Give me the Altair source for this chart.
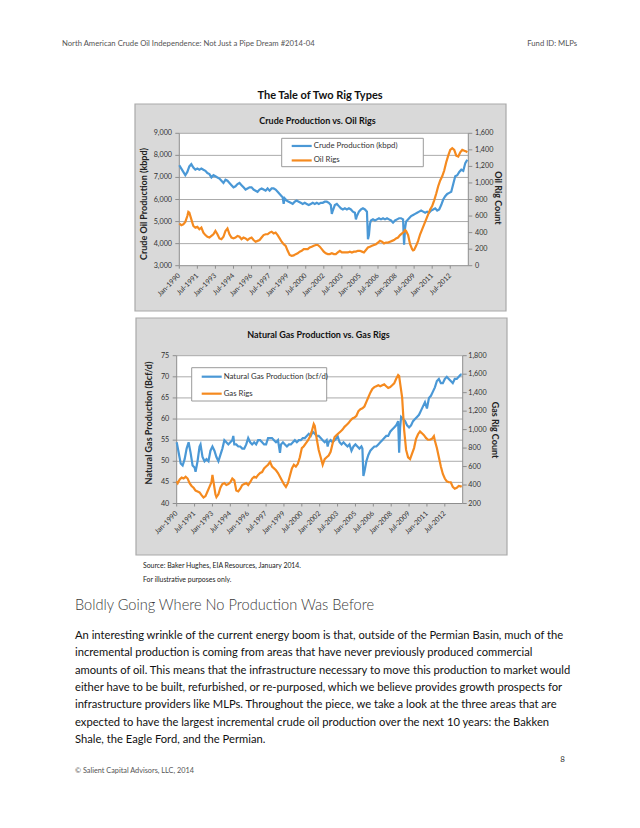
import altair as alt
import pandas as pd

# ------------------------------------------------------------------ data
crude_dates = ["1990-01","1990-03","1990-05","1990-07","1990-09","1990-11","1991-01","1991-03","1991-05","1991-07","1991-09","1991-11",
               "1992-01","1992-03","1992-05","1992-07","1992-09","1992-11","1993-01","1993-03","1993-05","1993-07","1993-09","1993-11",
               "1994-01","1994-03","1994-05","1994-07","1994-09","1994-11","1995-01","1995-03","1995-05","1995-07","1995-09","1995-11",
               "1996-01","1996-03","1996-05","1996-07","1996-09","1996-11","1997-01","1997-03","1997-05","1997-07","1997-09","1997-11",
               "1998-01","1998-03","1998-05","1998-07","1998-08","1998-09","1998-10","1998-12","1999-02","1999-04","1999-06","1999-08",
               "1999-10","1999-12","2000-02","2000-04","2000-06","2000-08","2000-10","2000-12","2001-02","2001-04","2001-06","2001-08",
               "2001-10","2001-12","2002-02","2002-04","2002-06","2002-08","2002-09","2002-10","2002-12","2003-02","2003-04","2003-06",
               "2003-08","2003-10","2003-12","2004-02","2004-04","2004-06","2004-08","2004-09","2004-10","2004-12","2005-02","2005-04",
               "2005-06","2005-08","2005-09","2005-10","2005-11","2005-12","2006-02","2006-04","2006-06","2006-08","2006-10","2006-12",
               "2007-02","2007-04","2007-06","2007-08","2007-10","2007-12","2008-02","2008-04","2008-06","2008-08","2008-09","2008-10",
               "2008-11","2008-12","2009-02","2009-04","2009-06","2009-08","2009-10","2009-12","2010-02","2010-04","2010-06","2010-08",
               "2010-10","2010-12","2011-02","2011-04","2011-06","2011-08","2011-10","2011-12","2012-02","2012-04","2012-06","2012-08",
               "2012-10","2012-12","2013-02","2013-04","2013-06","2013-08","2013-10","2013-12"]
crude_kbpd = [7550,7400,7250,7100,7250,7500,7600,7450,7350,7400,7350,7400,
              7350,7300,7200,7150,7000,7100,7050,7000,6950,6850,6750,6900,
              6850,6750,6650,6550,6600,6700,6750,6650,6550,6450,6500,6550,
              6550,6450,6400,6350,6450,6500,6450,6400,6500,6400,6500,6500,
              6450,6350,6250,6150,6100,5800,6050,5950,5900,5850,5800,5900,
              5950,5900,5850,5800,5850,5800,5750,5800,5850,5800,5850,5800,
              5850,5850,5900,5900,5850,5750,5350,5500,5750,5800,5700,5600,
              5550,5600,5550,5600,5550,5450,5400,5100,5250,5450,5550,5600,
              5550,5450,4200,4400,4900,5050,5100,5050,5100,5150,5100,5150,
              5100,5150,5100,5050,4950,5050,5100,5150,5150,5100,3950,4700,
              5000,5050,5150,5250,5300,5350,5400,5450,5500,5450,5400,5450,
              5400,5500,5550,5600,5500,5550,5750,6000,6150,6250,6300,6350,
              6700,7050,7100,7250,7350,7300,7650,7800]

oil_rig_dates = ["1990-01","1990-03","1990-05","1990-07","1990-09","1990-10","1990-11","1991-01","1991-03","1991-05","1991-07","1991-09",
                 "1991-11","1992-01","1992-03","1992-05","1992-07","1992-09","1992-11","1993-01","1993-03","1993-05","1993-07","1993-09",
                 "1993-11","1994-01","1994-03","1994-05","1994-07","1994-09","1994-11","1995-01","1995-03","1995-05","1995-07","1995-09",
                 "1995-11","1996-01","1996-03","1996-05","1996-07","1996-09","1996-11","1997-01","1997-03","1997-05","1997-07","1997-09",
                 "1997-11","1998-01","1998-03","1998-05","1998-07","1998-09","1998-11","1999-01","1999-03","1999-05","1999-07","1999-09",
                 "1999-11","2000-01","2000-03","2000-05","2000-07","2000-09","2000-11","2001-01","2001-03","2001-05","2001-07","2001-09",
                 "2001-11","2002-01","2002-03","2002-05","2002-07","2002-09","2002-11","2003-01","2003-03","2003-05","2003-07","2003-09",
                 "2003-11","2004-01","2004-03","2004-05","2004-07","2004-09","2004-11","2005-01","2005-03","2005-05","2005-07","2005-09",
                 "2005-11","2006-01","2006-03","2006-05","2006-07","2006-09","2006-11","2007-01","2007-03","2007-05","2007-07","2007-09",
                 "2007-11","2008-01","2008-03","2008-05","2008-07","2008-09","2008-10","2008-11","2009-01","2009-03","2009-05","2009-06",
                 "2009-07","2009-09","2009-11","2010-01","2010-03","2010-05","2010-07","2010-09","2010-11","2011-01","2011-03","2011-05",
                 "2011-07","2011-09","2011-11","2012-01","2012-03","2012-05","2012-07","2012-09","2012-11","2013-01","2013-03","2013-05",
                 "2013-07","2013-09","2013-11","2013-12"]
oil_rigs = [510,490,500,530,600,650,640,560,480,460,470,440,
            460,400,370,350,340,360,380,420,380,330,320,350,
            420,450,380,340,330,340,360,350,320,340,330,310,
            330,340,310,290,300,310,340,370,380,380,400,410,
            390,400,370,330,290,260,240,180,130,120,125,140,
            150,170,180,200,200,200,220,230,240,250,250,230,
            200,170,150,140,140,150,140,140,160,180,160,160,
            160,160,170,160,170,170,180,180,170,160,190,220,
            230,240,250,260,280,300,290,270,280,280,290,300,
            310,330,340,370,390,410,430,420,370,260,200,185,
            190,240,300,380,440,500,560,620,680,720,790,870,
            960,1030,1080,1150,1250,1330,1400,1420,1400,1330,1320,1370,
            1400,1390,1380,1370]

gas_dates = ["1990-01","1990-03","1990-05","1990-07","1990-09","1990-11","1991-01","1991-03","1991-05","1991-07","1991-08","1991-10",
             "1991-12","1992-01","1992-03","1992-05","1992-07","1992-09","1992-11","1993-01","1993-03","1993-05","1993-07","1993-09",
             "1993-11","1994-01","1994-03","1994-05","1994-07","1994-09","1994-10","1994-11","1995-01","1995-03","1995-05","1995-07",
             "1995-09","1995-11","1996-01","1996-03","1996-05","1996-07","1996-09","1996-11","1997-01","1997-03","1997-05","1997-07",
             "1997-09","1997-11","1998-01","1998-03","1998-05","1998-07","1998-09","1998-10","1998-12","1999-02","1999-04","1999-06",
             "1999-08","1999-10","1999-12","2000-02","2000-04","2000-06","2000-08","2000-10","2000-12","2001-02","2001-04","2001-06",
             "2001-08","2001-10","2001-12","2002-02","2002-04","2002-06","2002-08","2002-09","2002-10","2002-12","2003-02","2003-04",
             "2003-06","2003-07","2003-09","2003-11","2004-01","2004-03","2004-05","2004-07","2004-09","2004-11","2005-01","2005-03",
             "2005-05","2005-07","2005-08","2005-09","2005-10","2005-12","2006-02","2006-04","2006-06","2006-08","2006-10","2006-12",
             "2007-02","2007-04","2007-06","2007-08","2007-10","2007-12","2008-02","2008-04","2008-06","2008-08","2008-09","2008-10",
             "2008-11","2009-01","2009-03","2009-05","2009-07","2009-09","2009-11","2010-01","2010-03","2010-05","2010-07","2010-09",
             "2010-11","2011-01","2011-03","2011-05","2011-07","2011-09","2011-11","2012-01","2012-03","2012-05","2012-07","2012-09",
             "2012-11","2013-01","2013-03","2013-05","2013-07","2013-09","2013-11","2013-12"]
gas_bcfd = [54.5,52,49.5,49,50.5,53,54.5,52,49,48.5,47.5,50,
            53.5,54,51,50,50.5,50,52.5,53.5,52.5,51,50,51.5,
            53,55,54.5,54,54.5,55,56,54,54,53.5,53.5,53,
            53,54,55.5,54.5,54,54.5,54,55,55,54.5,54,54,
            55.5,55.5,55.5,55,54.5,55,52,54,54.5,54,53.5,54,
            54,54.5,55,54.5,55,55,55.5,55.5,56,56.5,56,57,
            56.5,56,56,55.5,55,54.5,55,53.5,54.5,55,54.5,55,
            55.5,56,54.5,54,54.5,54,53.5,54,52.5,53.5,54,53.5,
            53,53.5,53,46.5,47.5,50,51.5,52.5,53,53.5,53.5,54,
            54.5,55,55.5,56,56,57,57.5,58,58.5,59.5,52,58,
            60.5,60,59.5,58.5,58,58.5,59.5,60,60.5,61,62,63,
            64,62.5,65,65.5,66.5,67.5,69,69.5,68.5,68.5,69.5,70,
            69.5,69,68.5,69.5,69.5,70,70.5,70.5]

gas_rig_dates = ["1990-01","1990-02","1990-04","1990-06","1990-08","1990-10","1990-12","1991-02","1991-04","1991-06","1991-08","1991-10",
                 "1991-12","1992-02","1992-04","1992-06","1992-08","1992-10","1992-12","1993-01","1993-02","1993-04","1993-05","1993-07",
                 "1993-09","1993-11","1994-01","1994-03","1994-05","1994-07","1994-09","1994-11","1995-01","1995-03","1995-05","1995-07",
                 "1995-09","1995-11","1996-01","1996-03","1996-05","1996-07","1996-09","1996-11","1997-01","1997-03","1997-05","1997-07",
                 "1997-09","1997-11","1998-01","1998-03","1998-05","1998-07","1998-09","1998-11","1999-01","1999-03","1999-05","1999-07",
                 "1999-09","1999-11","2000-01","2000-03","2000-05","2000-07","2000-09","2000-11","2001-01","2001-03","2001-05","2001-07",
                 "2001-08","2001-10","2001-12","2002-02","2002-04","2002-06","2002-08","2002-10","2002-12","2003-02","2003-04","2003-06",
                 "2003-08","2003-10","2003-12","2004-02","2004-04","2004-06","2004-08","2004-10","2004-12","2005-02","2005-04","2005-06",
                 "2005-08","2005-10","2005-12","2006-02","2006-04","2006-06","2006-08","2006-10","2006-12","2007-02","2007-04","2007-06",
                 "2007-08","2007-10","2007-12","2008-02","2008-04","2008-06","2008-08","2008-09","2008-10","2008-12","2009-02","2009-04",
                 "2009-06","2009-08","2009-10","2009-12","2010-02","2010-04","2010-06","2010-08","2010-10","2010-12","2011-02","2011-04",
                 "2011-06","2011-08","2011-09","2011-11","2012-01","2012-03","2012-05","2012-07","2012-09","2012-11","2013-01","2013-03",
                 "2013-05","2013-07","2013-09","2013-11","2013-12"]
gas_rigs = [440,420,460,480,470,490,470,420,390,370,340,330,
            320,290,265,280,330,380,430,510,440,300,270,300,
            370,410,420,400,410,430,470,450,340,330,360,400,
            410,420,400,430,470,490,480,510,530,540,580,600,
            620,650,600,580,560,530,490,450,410,380,420,500,
            580,620,600,630,700,800,820,850,880,920,980,1060,
            1040,900,780,700,620,680,700,720,760,850,920,940,
            960,980,1000,1030,1050,1070,1100,1120,1130,1150,1200,1220,
            1230,1250,1300,1350,1400,1440,1460,1470,1480,1470,1480,1490,
            1470,1450,1460,1480,1500,1550,1590,1580,1500,1350,1000,780,
            700,680,740,800,900,950,980,960,940,910,890,890,
            900,930,880,800,700,600,520,470,440,430,430,380,
            360,370,390,385,380]

x_tick_labels = ["Jan-1990","Jul-1991","Jan-1993","Jul-1994","Jan-1996","Jul-1997","Jan-1999","Jul-2000",
                 "Jan-2002","Jul-2003","Jan-2005","Jul-2006","Jan-2008","Jul-2009","Jan-2011","Jul-2012"]
crude_ticks = [3000, 4000, 5000, 6000, 7000, 8000, 9000]
oil_rig_ticks = [0, 200, 400, 600, 800, 1000, 1200, 1400, 1600]
gas_ticks = [40, 45, 50, 55, 60, 65, 70, 75]
gas_rig_ticks = [200, 400, 600, 800, 1000, 1200, 1400, 1600, 1800]

body_lines = [
    "An interesting wrinkle of the current energy boom is that, outside of the Permian Basin, much of the",
    "incremental production is coming from areas that have never previously produced commercial",
    "amounts of oil.  This means that the infrastructure necessary to move this production to market would",
    "either have to be built, refurbished, or re-purposed, which we believe provides growth prospects for",
    "infrastructure providers like MLPs.  Throughout the piece, we take a look at the three areas that are",
    "expected to have the largest incremental crude oil production over the next 10 years:  the Bakken",
    "Shale, the Eagle Ford, and the Permian.",
]

# ------------------------------------------------------------------ helpers
MONTHS = {"Jan": 1, "Jul": 7}
BLUE = "#4a98d6"
ORANGE = "#f58a1f"
PANEL_BG = "#d9d9d9"
PANEL_EDGE = "#a9a9a9"
GRID = "#ababab"
AXIS = "#8e8e8e"
LBL = "#333333"
FONT = "Lato, Open Sans, sans-serif"
W, H = 624, 812


def midx(s):
    y, m = s.split("-")
    return (int(y) - 1990) * 12 + int(m) - 1


def lbl_idx(s):
    mon, y = s.split("-")
    return (int(y) - 1990) * 12 + MONTHS[mon] - 1


def series(dates, vals):
    return pd.DataFrame({"m": [midx(d) for d in dates], "v": vals})


ONE = pd.DataFrame({"a": [0]})


def text(s, x, y, size, weight="normal", color="#222222", align="left", angle=0, font=FONT):
    kw = dict(text=s, fontSize=size, fontWeight=weight, color=color, align=align,
              baseline="middle", font=font)
    if angle:
        kw["angle"] = angle
    return alt.Chart(ONE).mark_text(**kw).encode(x=alt.value(x), y=alt.value(y))


def rect(x0, y0, x1, y1, fill, stroke=None, sw=1):
    kw = dict(fill=fill)
    if stroke:
        kw.update(stroke=stroke, strokeWidth=sw)
    return alt.Chart(ONE).mark_rect(**kw).encode(
        x=alt.value(x0), x2=alt.value(x1), y=alt.value(y0), y2=alt.value(y1))


def hline(x0, x1, y, color, sw=1):
    return alt.Chart(ONE).mark_rule(color=color, strokeWidth=sw).encode(
        x=alt.value(x0), x2=alt.value(x1), y=alt.value(y))


def vline(x, y0, y1, color, sw=1):
    return alt.Chart(ONE).mark_rule(color=color, strokeWidth=sw).encode(
        x=alt.value(x), y=alt.value(y0), y2=alt.value(y1))


def panel(box, plot, left_dom, left_ticks, right_dom, right_ticks, s_left, s_right,
          title, left_title, right_title, ltitle_x, rtitle_x, ltitle_y, rtitle_y,
          lab_l_x, lab_r_x, legend, names):
    bx0, by0, bx1, by1 = box
    px0, py0, px1, py1 = plot
    xs = alt.Scale(domain=[0, 288], range=[px0, px1], nice=False, zero=False)
    yl = alt.Scale(domain=left_dom, range=[py1, py0], nice=False, zero=False)
    yr = alt.Scale(domain=right_dom, range=[py1, py0], nice=False, zero=False)
    L = []
    L.append(rect(bx0, by0, bx1, by1, PANEL_BG, PANEL_EDGE, 1.2))
    L.append(rect(px0, py0, px1, py1, "white"))
    gdf = pd.DataFrame({"v": left_ticks[1:]})
    L.append(alt.Chart(gdf).mark_rule(color=GRID, strokeWidth=1).encode(
        y=alt.Y("v:Q", scale=yl, axis=None), x=alt.value(px0), x2=alt.value(px1)))
    L.append(vline(px0, py0, py1, AXIS))
    L.append(vline(px1, py0, py1, AXIS))
    L.append(hline(px0, px1, py1, AXIS))
    ldf = pd.DataFrame({"v": left_ticks, "t": [f"{v:,}" for v in left_ticks]})
    rdf = pd.DataFrame({"v": right_ticks, "t": [f"{v:,}" for v in right_ticks]})
    L.append(alt.Chart(ldf).mark_rule(color=AXIS).encode(
        y=alt.Y("v:Q", scale=yl, axis=None), x=alt.value(px0 - 4), x2=alt.value(px0)))
    L.append(alt.Chart(rdf).mark_rule(color=AXIS).encode(
        y=alt.Y("v:Q", scale=yr, axis=None), x=alt.value(px1), x2=alt.value(px1 + 4)))
    L.append(alt.Chart(ldf).mark_text(align="right", baseline="middle", fontSize=7.2,
                                      font=FONT, color=LBL).encode(
        y=alt.Y("v:Q", scale=yl, axis=None), x=alt.value(lab_l_x), text="t:N"))
    L.append(alt.Chart(rdf).mark_text(align="left", baseline="middle", fontSize=7.2,
                                      font=FONT, color=LBL).encode(
        y=alt.Y("v:Q", scale=yr, axis=None), x=alt.value(lab_r_x), text="t:N"))
    xdf = pd.DataFrame({"m": [lbl_idx(s) for s in x_tick_labels], "t": x_tick_labels})
    L.append(alt.Chart(xdf).mark_rule(color=AXIS).encode(
        x=alt.X("m:Q", scale=xs, axis=None), y=alt.value(py1), y2=alt.value(py1 + 3)))
    L.append(alt.Chart(xdf).mark_text(align="right", baseline="middle", fontSize=7,
                                      font=FONT, color=LBL, angle=315).encode(
        x=alt.X("m:Q", scale=xs, axis=None), y=alt.value(py1 + 9), text="t:N"))
    L.append(alt.Chart(s_left).mark_line(color=BLUE, strokeWidth=2.2).encode(
        x=alt.X("m:Q", scale=xs, axis=None), y=alt.Y("v:Q", scale=yl, axis=None)))
    L.append(alt.Chart(s_right).mark_line(color=ORANGE, strokeWidth=2.2).encode(
        x=alt.X("m:Q", scale=xs, axis=None), y=alt.Y("v:Q", scale=yr, axis=None)))
    L.append(text(title, (bx0 + bx1) / 2 - 3, by0 + 17, 9, "bold", "#111111", "center"))
    L.append(text(left_title, ltitle_x, ltitle_y, 9, "bold", "#222222", "center", 270))
    L.append(text(right_title, rtitle_x, rtitle_y, 9, "bold", "#222222", "center", 90))
    gx0, gy0, gx1, gy1 = legend
    L.append(rect(gx0, gy0, gx1, gy1, "white", "#9a9a9a", 1))
    ya = gy0 + (gy1 - gy0) * 0.27
    yb = gy0 + (gy1 - gy0) * 0.78
    L.append(hline(gx0 + 10, gx0 + 30, ya, BLUE, 2.2))
    L.append(hline(gx0 + 10, gx0 + 30, yb, ORANGE, 2.2))
    L.append(text(names[0], gx0 + 32, ya, 7.8, "normal", LBL))
    L.append(text(names[1], gx0 + 32, yb, 7.8, "normal", LBL))
    return L


layers = []
layers += panel(box=(127, 96, 498, 303), plot=(171.3, 125.3, 460.3, 257.7),
                left_dom=[3000, 9000], left_ticks=crude_ticks,
                right_dom=[0, 1600], right_ticks=oil_rig_ticks,
                s_left=series(crude_dates, crude_kbpd), s_right=series(oil_rig_dates, oil_rigs),
                title="Crude Production vs. Oil Rigs",
                left_title="Crude Oil Production (kbpd)", right_title="Oil Rig Count",
                ltitle_x=136, rtitle_x=489.5, ltitle_y=196, rtitle_y=190,
                lab_l_x=164, lab_r_x=467,
                legend=(273.7, 130.3, 415.3, 158.7),
                names=["Crude Production (kbpd)", "Oil Rigs"])
layers += panel(box=(128, 310, 499, 547), plot=(168.7, 347.7, 454.7, 495.5),
                left_dom=[40, 75], left_ticks=gas_ticks,
                right_dom=[200, 1800], right_ticks=gas_rig_ticks,
                s_left=series(gas_dates, gas_bcfd), s_right=series(gas_rig_dates, gas_rigs),
                title="Natural Gas Production vs. Gas Rigs",
                left_title="Natural Gas Production (Bcf/d)", right_title="Gas Rig Count",
                ltitle_x=141.3, rtitle_x=487, ltitle_y=415, rtitle_y=422,
                lab_l_x=161.3, lab_r_x=460.3,
                legend=(183.7, 359.7, 318.7, 393),
                names=["Natural Gas Production (bcf/d)", "Gas Rigs"])

# page texts
layers.append(text("North American Crude Oil Independence:  Not Just a Pipe Dream #2014-04",
                   54, 36, 7.7, "normal", "#555555", "left"))
layers.append(text("Fund ID: MLPs", 569, 36, 7.7, "normal", "#555555", "right"))
layers.append(text("The Tale of Two Rig Types", 312, 88, 11, "bold", "#111111", "center"))
layers.append(text("Source: Baker Hughes, EIA Resources, January 2014.", 135, 558, 6.9,
                   "normal", "#222222", "left"))
layers.append(text("For illustrative purposes only.", 135, 572, 6.9,
                   "normal", "#222222", "left"))
layers.append(text("Boldly Going Where No Production Was Before", 67, 598, 14.6, 300, "#3a3a3a"))
for i, line in enumerate(body_lines):
    layers.append(text(line, 67, 628 + i * 17.3, 11.2, "normal", "#111111"))
layers.append(text("8", 557, 752, 8, "normal", "#333333", "right"))
layers.append(text("\u00a9 Salient Capital Advisors, LLC, 2014", 67, 763, 7.3,
                   "normal", "#555555", "left"))

chart = alt.layer(*layers).resolve_scale(x="independent", y="independent").properties(
    width=W, height=H, autosize=alt.AutoSizeParams(type="none"), padding=0,
    background="white",
).configure_view(stroke=None)

chart.save("out.html", embed_options={"renderer": "svg", "actions": False})
